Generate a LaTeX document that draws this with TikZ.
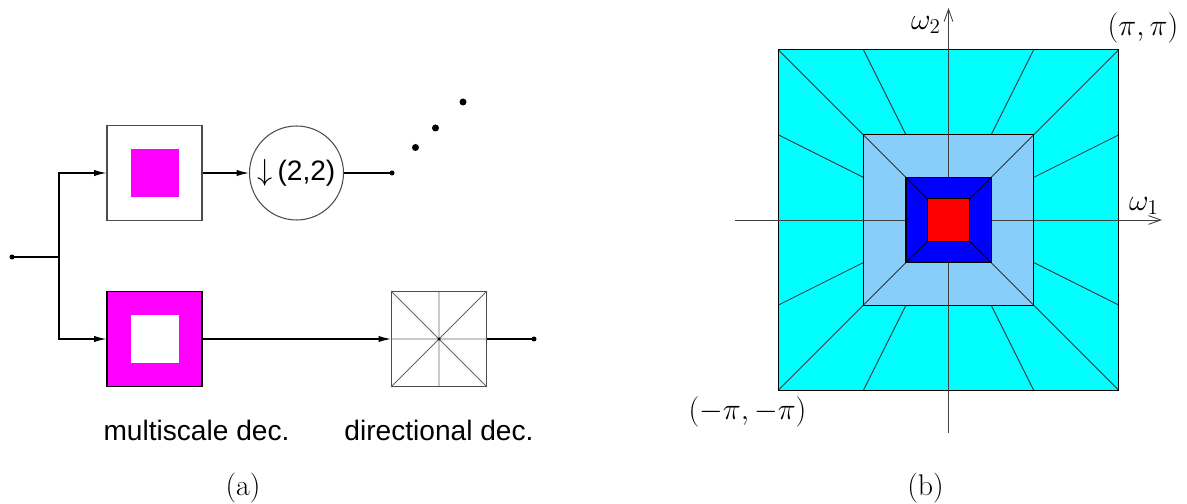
\documentclass[tikz,border=0pt]{standalone}
\usepackage{fontspec}
\usepackage{tikz}
\usetikzlibrary{positioning,arrows.meta,calc}

\newfontfamily\helv{Liberation Sans}

\definecolor{skyband}{RGB}{135,206,250}
\definecolor{cyanband}{RGB}{0,255,255}
\definecolor{pinkband}{RGB}{255,0,255}

\tikzset{
  sig/.style={line width=0.6pt},
  tip/.style={-{Latex[length=7pt,width=3.5pt]}},
  filt/.style={draw=black!70, line width=0.6pt, minimum size=1.9cm, inner sep=0pt},
  wedge/.style={black!80, line width=0.5pt},
  axis/.style={black!75, line width=0.5pt, -{Straight Barb[length=7pt,width=5pt]}},
  lab/.style={font=\helv\fontsize{16}{19}\selectfont},
  mlab/.style={font=\fontsize{17.5}{21}\selectfont},
  subcap/.style={font=\fontsize{17}{20}\selectfont}
}

\begin{document}
\begin{tikzpicture}

\useasboundingbox (0,0) rectangle (23.74,10.08);

% (a) filter bank
\coordinate (in) at (0.24,4.94);
\coordinate (split) at (1.18,4.94);

\node[filt, path picture={\fill[pinkband] ([shift={(-0.48,-0.48)}]path picture bounding box.center) rectangle ++(0.96,0.96);}] (hi) at (3.09,6.62) {};
\node[filt, draw=black, fill=pinkband, path picture={\fill[white] ([shift={(-0.48,-0.48)}]path picture bounding box.center) rectangle ++(0.96,0.96);}] (lo) at (3.09,3.30) {};

\node[circle, draw=black!70, line width=0.6pt, minimum size=1.88cm, inner sep=0pt, lab] (down) at (5.93,6.62) {$\downarrow$\,(2,2)};
\coordinate (out1) at (7.84,6.62);

\node[filt] (dir) at (8.78,3.30) {};
\draw[black!60, line width=0.5pt] (dir.north west) -- (dir.south east) (dir.north east) -- (dir.south west)
  (dir.north) -- (dir.south) (dir.west) -- (dir.east);
\fill (dir.center) circle (0.03);
\coordinate (out2) at (10.68,3.30);

\draw[sig] (in) -- (split);
\draw[sig, tip] (split) |- (hi);
\draw[sig, tip] (split) |- (lo);
\draw[sig, tip] (hi) -- (down);
\draw[sig] (down) -- (out1);
\draw[sig, tip] (lo) -- (dir);
\draw[sig] (dir) -- (out2);
\foreach \p in {in,out1,out2} \fill (\p) circle (0.05);

% more stages
\fill (8.31,7.13) circle (0.07) (8.71,7.52) circle (0.07) (9.26,8.04) circle (0.07);

\node[lab] (mslab) at (3.93,1.48) {multiscale dec.};
\node[lab] (dirlab) at (8.78,1.48) {directional dec.};
\node[subcap] (capa) at (4.86,0.32) {(a)};

% (b) frequency partition
\begin{scope}[shift={(18.97,5.68)}]
\fill[cyanband] (-3.408,-3.408) rectangle (3.408,3.408);
\fill[skyband] (-1.704,-1.704) rectangle (1.704,1.704);
\foreach \t in {-0.5,0.5} {
  \draw[wedge] (\t*3.408,3.408) -- (\t*1.704,1.704);
  \draw[wedge] (\t*3.408,-3.408) -- (\t*1.704,-1.704);
  \draw[wedge] (3.408,\t*3.408) -- (1.704,\t*1.704);
  \draw[wedge] (-3.408,\t*3.408) -- (-1.704,\t*1.704);
}
\draw[wedge] (-3.408,-3.408) -- (3.408,3.408) (-3.408,3.408) -- (3.408,-3.408);
\draw[wedge, black] (-3.408,-3.408) rectangle (3.408,3.408);
\draw[wedge, black] (-1.704,-1.704) rectangle (1.704,1.704);

% axes
\draw[axis] (-4.27,0) -- (4.27,0);
\draw[axis] (0,-4.26) -- (0,4.24);

\fill[blue] (-0.852,-0.852) rectangle (0.852,0.852);
\draw[wedge, black] (-0.852,-0.852) -- (0.852,0.852) (-0.852,0.852) -- (0.852,-0.852);
\draw[black, line width=0.7pt] (-0.852,-0.852) rectangle (0.852,0.852);
\filldraw[fill=red, draw=black, line width=0.6pt] (-0.426,-0.426) rectangle (0.426,0.426);
\end{scope}

\node[mlab] (w2) at (18.52,9.58) {$\omega_2$};
\node[mlab] (w1) at (22.88,5.96) {$\omega_1$};
\node[mlab] (pp) at (22.86,9.52) {$(\pi,\pi)$};
\node[mlab] (mm) at (14.95,1.84) {$(-\pi,-\pi)$};
\node[subcap] (capb) at (18.51,0.32) {(b)};

\end{tikzpicture}
\end{document}
